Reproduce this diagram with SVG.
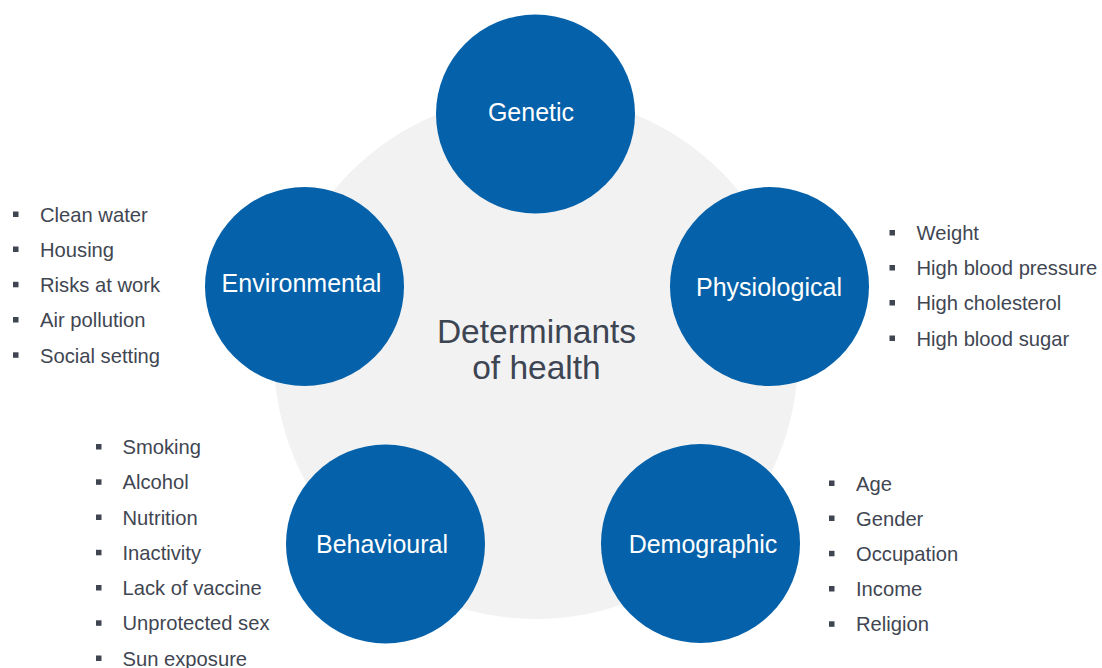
<svg xmlns="http://www.w3.org/2000/svg" width="1102" height="668" viewBox="0 0 1102 668">
  <style>
    .hub { fill: #f2f2f2; }
    .node { fill: #0561a9; }
    .label { font-family: "Liberation Sans", Arial, sans-serif; font-size: 25px; fill: #ffffff; text-anchor: middle; }
    .title { font-family: "Liberation Sans", Arial, sans-serif; font-size: 33.5px; fill: #3d4553; text-anchor: middle; }
    .item { font-family: "Liberation Sans", Arial, sans-serif; font-size: 20.2px; fill: #3f4652; }
    .dot { fill: #3f4652; }
  </style>
  <defs>
    <rect id="sq" width="5.5" height="5.5"/>
  </defs>
  <rect width="1102" height="668" fill="#ffffff"/>

  <!-- central hub -->
  <g id="hub">
    <circle class="hub" cx="536" cy="357" r="262"/>
    <text class="title" x="536.5" y="342.7">Determinants</text>
    <text class="title" x="536.5" y="379.3">of health</text>
  </g>

  <!-- Genetic -->
  <g id="genetic">
    <circle class="node" cx="535.5" cy="114" r="99.5"/>
    <text class="label" x="531" y="121">Genetic</text>
  </g>

  <!-- Environmental -->
  <g id="environmental">
    <circle class="node" cx="304.5" cy="286.5" r="99.5"/>
    <text class="label" x="301.5" y="292">Environmental</text>
    <g class="dot">
      <use href="#sq" x="13" y="211.5"/>
      <use href="#sq" x="13" y="246.5"/>
      <use href="#sq" x="13" y="281.8"/>
      <use href="#sq" x="13" y="317"/>
      <use href="#sq" x="13" y="352.3"/>
    </g>
    <text class="item" x="40" y="221.7">Clean water</text>
    <text class="item" x="40" y="256.9">Housing</text>
    <text class="item" x="40" y="292.2">Risks at work</text>
    <text class="item" x="40" y="327.4">Air pollution</text>
    <text class="item" x="40" y="362.7">Social setting</text>
  </g>

  <!-- Physiological -->
  <g id="physiological">
    <circle class="node" cx="769.5" cy="286.5" r="99.5"/>
    <text class="label" x="769" y="296">Physiological</text>
    <g class="dot">
      <use href="#sq" x="889.5" y="230"/>
      <use href="#sq" x="889.5" y="265"/>
      <use href="#sq" x="889.5" y="300"/>
      <use href="#sq" x="889.5" y="335.5"/>
    </g>
    <text class="item" x="916.5" y="240">Weight</text>
    <text class="item" x="916.5" y="275">High blood pressure</text>
    <text class="item" x="916.5" y="310">High cholesterol</text>
    <text class="item" x="916.5" y="345.5">High blood sugar</text>
  </g>

  <!-- Behavioural -->
  <g id="behavioural">
    <circle class="node" cx="385.5" cy="544" r="99.5"/>
    <text class="label" x="382" y="552.7">Behavioural</text>
    <g class="dot">
      <use href="#sq" x="96" y="444"/>
      <use href="#sq" x="96" y="479.3"/>
      <use href="#sq" x="96" y="514.5"/>
      <use href="#sq" x="96" y="549.8"/>
      <use href="#sq" x="96" y="585"/>
      <use href="#sq" x="96" y="620.3"/>
      <use href="#sq" x="96" y="655.5"/>
    </g>
    <text class="item" x="122.5" y="454">Smoking</text>
    <text class="item" x="122.5" y="489.3">Alcohol</text>
    <text class="item" x="122.5" y="524.5">Nutrition</text>
    <text class="item" x="122.5" y="559.8">Inactivity</text>
    <text class="item" x="122.5" y="595">Lack of vaccine</text>
    <text class="item" x="122.5" y="630.3">Unprotected sex</text>
    <text class="item" x="122.5" y="665.5">Sun exposure</text>
  </g>

  <!-- Demographic -->
  <g id="demographic">
    <circle class="node" cx="700.5" cy="543.5" r="99.5"/>
    <text class="label" x="703" y="552.7">Demographic</text>
    <g class="dot">
      <use href="#sq" x="829" y="480.5"/>
      <use href="#sq" x="829" y="515.5"/>
      <use href="#sq" x="829" y="550.8"/>
      <use href="#sq" x="829" y="586"/>
      <use href="#sq" x="829" y="621.3"/>
    </g>
    <text class="item" x="856" y="490.5">Age</text>
    <text class="item" x="856" y="525.5">Gender</text>
    <text class="item" x="856" y="560.8">Occupation</text>
    <text class="item" x="856" y="596">Income</text>
    <text class="item" x="856" y="631.3">Religion</text>
  </g>
</svg>
